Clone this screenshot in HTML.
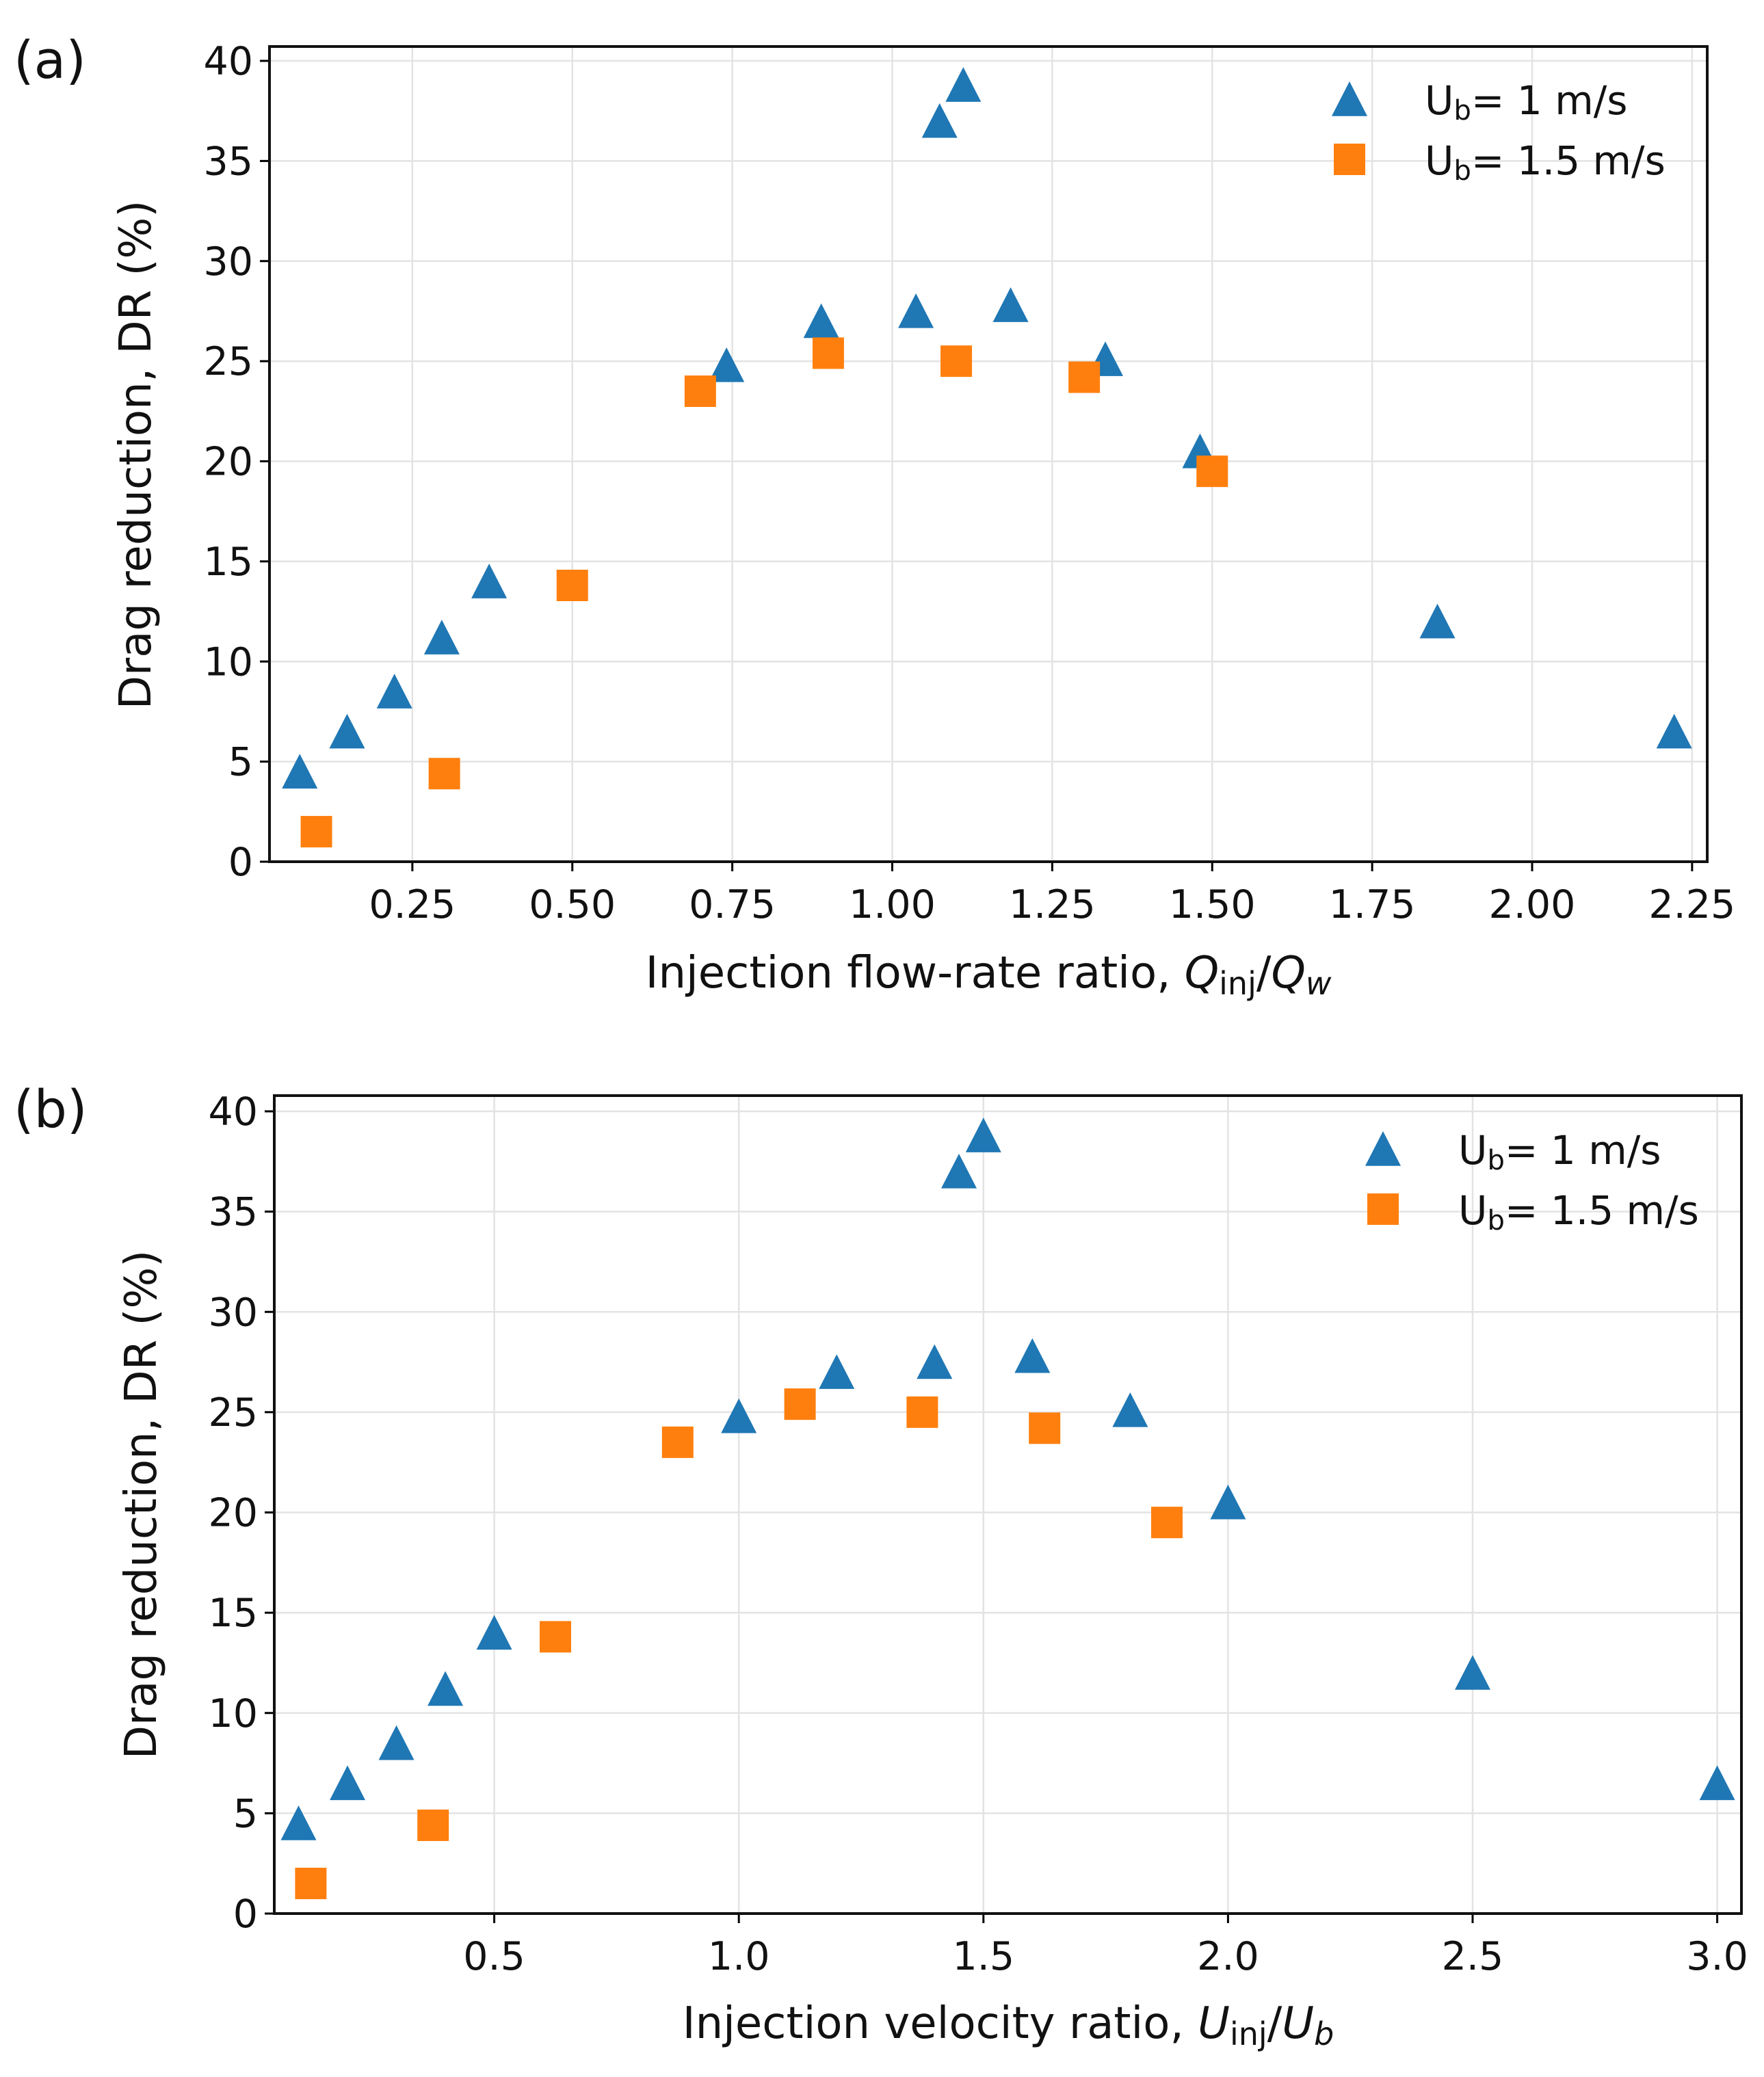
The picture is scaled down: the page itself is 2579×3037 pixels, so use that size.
<!DOCTYPE html>
<html><head><meta charset="utf-8"><style>
html,body{margin:0;padding:0;background:#fff;}
svg{display:block;font-family:"DejaVu Sans","Liberation Sans",sans-serif;}
</style></head><body>
<svg id="fig" width="2579" height="3037" viewBox="0 0 2579 3037" xmlns="http://www.w3.org/2000/svg"></svg>
<script>
// ---- data (panel a) ----
const aBlueX = [0.074,0.148,0.222,0.296,0.370,0.741,0.889,1.037,1.074,1.111,1.185,1.333,1.481,1.852,2.222];
const aBlueY = [4.5,6.5,8.5,11.2,14.0,24.8,27.0,27.5,37.0,38.8,27.8,25.1,20.5,12.0,6.5];
const aOrangeX = [0.1,0.3,0.5,0.7,0.9,1.1,1.3,1.5];
const aOrangeY = [1.5,4.4,13.8,23.5,25.4,25.0,24.2,19.5];
const aXTicks = ["0.25","0.50","0.75","1.00","1.25","1.50","1.75","2.00","2.25"];
// ---- data (panel b) ----
const bBlueX = [0.1,0.2,0.3,0.4,0.5,1.0,1.2,1.4,1.45,1.5,1.6,1.8,2.0,2.5,3.0];
const bBlueY = [4.5,6.5,8.5,11.2,14.0,24.8,27.0,27.5,37.0,38.8,27.8,25.1,20.5,12.0,6.5];
const bOrangeX = [0.125,0.375,0.625,0.875,1.125,1.375,1.625,1.875];
const bOrangeY = [1.5,4.4,13.8,23.5,25.4,25.0,24.2,19.5];
const bXTicks = ["0.5","1.0","1.5","2.0","2.5","3.0"];
const yTicks = ["0","5","10","15","20","25","30","35","40"];

const NS="http://www.w3.org/2000/svg";
const svg=document.getElementById('fig');
function mk(tag,attrs,parent){const e=document.createElementNS(NS,tag);for(const k in attrs)e.setAttribute(k,attrs[k]);(parent||svg).appendChild(e);return e;}

function panel(cfg){
  const g=mk('g',{});
  
  
  const X=v=>cfg.x0+v*cfg.xs, Y=v=>cfg.y0-v*cfg.ys;
  cfg.xt.forEach(t=>{const x=X(parseFloat(t));
    const l=mk('line',{x1:x,x2:x,y1:cfg.top,y2:cfg.y0,stroke:'#e3e3e3','stroke-width':2.5},g);
    });
  yTicks.forEach(t=>{const y=Y(parseFloat(t));
    const l=mk('line',{x1:cfg.left,x2:cfg.right,y1:y,y2:y,stroke:'#e3e3e3','stroke-width':2.5},g);
    });
  cfg.xt.forEach(t=>{const x=X(parseFloat(t));
    mk('line',{x1:x,x2:x,y1:cfg.y0,y2:cfg.y0+14,stroke:'#000','stroke-width':3},g);
    const tx=mk('text',{x:x,y:cfg.y0+82,'font-size':57,'text-anchor':'middle',fill:'#111'},g);
    tx.textContent=t;
    });
  yTicks.forEach(t=>{const y=Y(parseFloat(t));
    mk('line',{x1:cfg.left-14,x2:cfg.left,y1:y,y2:y,stroke:'#000','stroke-width':3},g);
    const tx=mk('text',{x:cfg.left-24,y:y+20,'font-size':57,'text-anchor':'end',fill:'#111'},g);
    tx.textContent=t;
    });
  const f=mk('rect',{x:cfg.left,y:cfg.top,width:cfg.right-cfg.left,height:cfg.y0-cfg.top,fill:'none',stroke:'#111','stroke-width':4},g);
  
  const tri=(cx,cy,p,name)=>{const s=26;const m=mk('polygon',{points:`${cx},${cy-s} ${cx-s},${cy+s*0.95} ${cx+s},${cy+s*0.95}`,fill:'#1f77b4'},p);
    return m;};
  const sq=(cx,cy,p,name)=>{const s=23;const m=mk('rect',{x:cx-s,y:cy-s,width:2*s,height:2*s,fill:'#ff7f0e'},p);
    return m;};
  cfg.bx.forEach((v,i)=>tri(X(v),Y(cfg.by[i]),g,'point-ub-1'));
  cfg.ox.forEach((v,i)=>sq(X(v),Y(cfg.oy[i]),g,'point-ub-1-5'));
  const lg=mk('g',{},g);
  
  tri(cfg.lx,cfg.ly,lg,'legend-marker-ub-1');
  sq(cfg.lx,cfg.ly+88,lg,'legend-marker-ub-1-5');
  const l1=mk('text',{x:cfg.lx+110,y:cfg.ly+22,'font-size':58,fill:'#111'},lg);
  l1.innerHTML='U<tspan font-size="40" dy="8">b</tspan><tspan dy="-8">= 1 m/s</tspan>';
  
  const l2=mk('text',{x:cfg.lx+110,y:cfg.ly+110,'font-size':58,fill:'#111'},lg);
  l2.innerHTML='U<tspan font-size="40" dy="8">b</tspan><tspan dy="-8">= 1.5 m/s</tspan>';
  
  const xl=mk('text',{x:cfg.xlx,y:cfg.xly,'font-size':64,'text-anchor':'middle',fill:'#111'},g);
  xl.innerHTML=cfg.xlabel;
  
  const yl=mk('text',{x:0,y:0,'font-size':64,'text-anchor':'middle',fill:'#111',transform:`translate(${cfg.ylx},${cfg.yly}) rotate(-90)`},g);
  yl.textContent='Drag reduction, DR (%)';
  
  const pl=mk('text',{x:20,y:cfg.top+46,'font-size':76,fill:'#111'},g);
  pl.textContent=cfg.label;
  
}

panel({name:'panel-a',x0:369,xs:935.5,y0:1260,ys:(1260-89)/40,left:394,right:2496,top:68,
  xt:aXTicks,bx:aBlueX,by:aBlueY,ox:aOrangeX,oy:aOrangeY,lx:1973,ly:145,
  xlabel:'Injection flow-rate ratio, <tspan font-style="italic">Q</tspan><tspan font-size="46" dy="10">inj</tspan><tspan dy="-10">/</tspan><tspan font-style="italic">Q</tspan><tspan font-style="italic" font-size="46" dy="10">w</tspan>',
  xlx:1445,xly:1444,ylx:220,yly:665,label:'(a)'});

panel({name:'panel-b',x0:365,xs:715.2,y0:2798,ys:(2798-1625)/40,left:401,right:2546,top:1602,
  xt:bXTicks,bx:bBlueX,by:bBlueY,ox:bOrangeX,oy:bOrangeY,lx:2022,ly:1680,
  xlabel:'Injection velocity ratio, <tspan font-style="italic">U</tspan><tspan font-size="46" dy="10">inj</tspan><tspan dy="-10">/</tspan><tspan font-style="italic">U</tspan><tspan font-style="italic" font-size="46" dy="10">b</tspan>',
  xlx:1474,xly:2980,ylx:228,yly:2200,label:'(b)'});
</script>
</body></html>
